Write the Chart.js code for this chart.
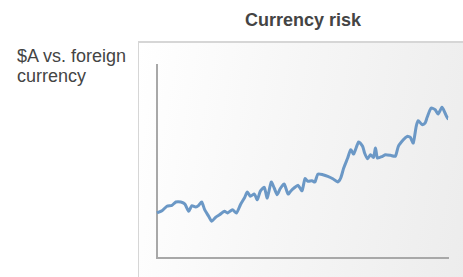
<!DOCTYPE html>
<html>
<head>
<meta charset="utf-8">
<script src="https://cdn.jsdelivr.net/npm/chart.js@4/dist/chart.umd.min.js"></script>
<style>
  body { margin: 0; background: #fff; width: 463px; height: 277px; overflow: hidden; position: relative; font-family: "Liberation Sans", Arial, sans-serif; }
  #title { position: absolute; left: 138px; width: 330px; top: 10px; line-height: 20px; text-align: center; font-weight: bold; font-size: 18px; color: #444; }
  #ylabel { position: absolute; left: 17px; top: 46px; font-size: 18px; line-height: 20px; color: #444; }
  #panel { position: absolute; left: 138px; top: 41px; width: 330px; height: 240px;
           border-top: 2px solid #d6d6d6; border-left: 1px solid #d6d6d6;
           background: linear-gradient(100deg, #ffffff 0%, #f6f6f6 45%, #ececec 100%); }
  #wrap { position: absolute; left: 0; top: 0; width: 325px; height: 236px; }
</style>
</head>
<body>
<div id="title">Currency risk</div>
<div id="ylabel">$A vs. foreign<br>currency</div>
<div id="panel"><div id="wrap"><canvas id="c"></canvas></div></div>
<script>
// x positions along the axis and value above the axis
const xs = [0, 5, 10, 15, 19, 24, 28, 32, 35, 39, 42, 45, 48, 52, 55, 59, 63, 68, 71, 76, 80, 84, 88, 91, 94, 98, 101, 104, 108, 111, 115, 118, 121, 124, 128, 132, 135, 138, 142, 146, 149, 152, 156, 159, 162, 167, 172, 177, 182, 185, 188, 192, 195, 198, 203, 207, 209, 212, 215, 218, 220, 222, 227, 230, 235, 240, 243, 248, 252, 255, 258, 261, 263, 267, 270, 272, 276, 280, 283, 287, 290, 293, 297];
const values = [45, 47.3, 51.7, 52.7, 56, 56, 54, 46.7, 52.3, 51, 52.7, 56, 48.3, 41.7, 36.7, 40.7, 43.3, 46.7, 45, 48.3, 45, 53.3, 60, 66, 61.7, 64, 58.3, 66.7, 70.7, 60, 76, 70, 63.3, 69.3, 74, 64, 67.3, 70, 72.7, 67.3, 79.3, 76.7, 77.3, 76, 84, 83.3, 81.7, 79.3, 76, 80, 90, 100, 108.3, 104, 116, 111.7, 105, 99.3, 103.3, 100.7, 110, 100, 101.7, 103.3, 102.7, 101.7, 111.7, 118.3, 121.7, 120.7, 115, 131.7, 137.3, 133.3, 135, 140.7, 150, 148.3, 144, 150.7, 145, 139.3, 145];

const points = xs.map((x, i) => ({ x: x, y: values[i] }));

new Chart(document.getElementById('c'), {
    type: 'line',
    data: {
        datasets: [{
            data: points,
            borderColor: '#6b98c6',
            borderWidth: 3,
            pointRadius: 0,
            tension: 0.2,
            clip: false
        }]
    },
    options: {
        animation: false,
        responsive: true,
        maintainAspectRatio: false,
        layout: { padding: { left: 10, right: 16, top: 22, bottom: 13 } },
        plugins: { legend: { display: false }, tooltip: { enabled: false } },
        scales: {
            x: {
                type: 'linear', min: 0, max: 293,
                ticks: { display: false },
                grid: { display: false },
                border: { color: '#a8a8a8', width: 2 }
            },
            y: {
                min: 0, max: 193,
                ticks: { display: false },
                grid: { display: false },
                border: { color: '#a8a8a8', width: 2 }
            }
        }
    }
});
</script>
</body>
</html>
